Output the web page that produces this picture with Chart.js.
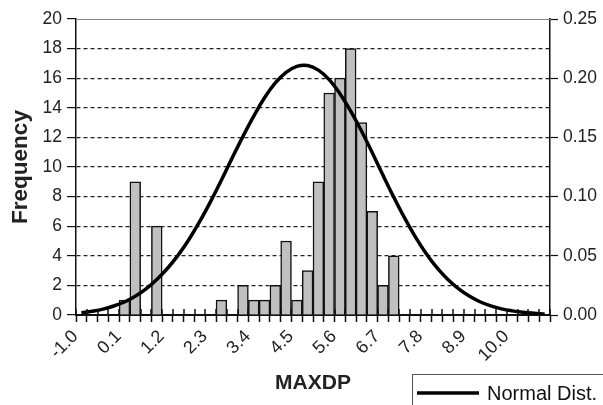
<!DOCTYPE html>
<html>
<head>
<meta charset="utf-8">
<script src="https://cdn.jsdelivr.net/npm/chart.js@4.4.1/dist/chart.umd.min.js"></script>
<style>
html,body{margin:0;padding:0;background:#fff;}
#wrap{width:603px;height:405px;position:relative;}
</style>
</head>
<body>
<div id="wrap"><canvas id="c" width="603" height="405"></canvas></div>
<script>
const categories = ['-1.0','','','','0.1','','','','1.2','','','','2.3','','','','3.4','','','','4.5','','','','5.6','','','','6.7','','','','7.8','','','','8.9','','','','10.0','','',''];
const frequency = [0,0,0,0,1,9,0,6,0,0,0,0,0,1,0,2,1,1,2,5,1,3,9,15,16,18,13,7,2,4,0,0,0,0,0,0,0,0,0,0,0,0,0,0];
const normalDist = [0.0018,0.0032,0.0050,0.0076,0.0110,0.0158,0.0220,0.0300,0.0395,0.0508,0.0640,0.0792,0.0960,0.1140,0.1327,0.1509,0.1680,0.1835,0.1960,0.2050,0.2100,0.2107,0.2068,0.1988,0.1869,0.1722,0.1554,0.1371,0.1180,0.0995,0.0820,0.0660,0.0520,0.0400,0.0302,0.0222,0.0160,0.0112,0.0077,0.0052,0.0035,0.0023,0.0015,0.0009];
const leftTicks = {min:0, max:20, step:2};
const rightTicks = {min:0, max:0.25, step:0.05};
const xTitle = 'MAXDP';
const yTitle = 'Frequency';
const seriesNames = ['Frequency','Normal Dist.'];

const FONT = "'Liberation Sans', Arial, sans-serif";

const extras = {
  id:'extras',
  afterDatasetsDraw(chart){
    const {ctx, chartArea:a, scales:{x}} = chart;
    ctx.save();
    ctx.strokeStyle = '#888'; ctx.lineWidth = 1;
    ctx.beginPath(); ctx.moveTo(a.left, a.top+0.5); ctx.lineTo(a.right, a.top+0.5); ctx.stroke();
    ctx.strokeStyle = '#111'; ctx.lineWidth = 1.5;
    for (let i = 0; i <= categories.length; i++) {
      const px = Math.round(x.getPixelForValue(i - 0.5));
      ctx.beginPath(); ctx.moveTo(px, a.bottom); ctx.lineTo(px, a.bottom - 6); ctx.stroke();
    }
    ctx.restore();
  },
  afterDraw(chart){
    const ctx = chart.ctx;
    const ds = chart.data.datasets.find(d => d.type === 'line');
    ctx.save();
    const bx = 412, by = 374;
    ctx.strokeStyle = '#555'; ctx.lineWidth = 1;
    ctx.strokeRect(bx + 0.5, by + 0.5, chart.width, chart.height);
    ctx.strokeStyle = ds.borderColor; ctx.lineWidth = ds.borderWidth;
    ctx.beginPath(); ctx.moveTo(417, 393); ctx.lineTo(479, 393); ctx.stroke();
    ctx.fillStyle = '#111';
    ctx.font = "20px " + FONT;
    ctx.textBaseline = 'alphabetic';
    ctx.fillText(ds.label, 487, 400);
    ctx.restore();
  }
};

new Chart(document.getElementById('c'), {
  data: {
    labels: categories,
    datasets: [
      {
        type:'line', label: seriesNames[1], data: normalDist, yAxisID:'y1',
        borderColor:'#000', borderWidth:3.5, pointRadius:0, tension:0.4, fill:false, order:0
      },
      {
        type:'bar', label: seriesNames[0], data: frequency, yAxisID:'y',
        backgroundColor:'#c0c0c0', borderColor:'#111', borderWidth:1.5,
        barPercentage:1, categoryPercentage:1, order:1
      }
    ]
  },
  options: {
    responsive:false, animation:false, devicePixelRatio:1,
    layout:{padding:{top:19, left:0, right:0, bottom:0}},
    plugins:{legend:{display:false}, tooltip:{enabled:false}},
    scales:{
      x:{
        type:'category', offset:true,
        grid:{display:true, offset:true, drawOnChartArea:false, drawTicks:true, tickLength:7, tickColor:'#111', tickWidth:1.5},
        border:{display:true, color:'#111', width:2},
        ticks:{autoSkip:false, minRotation:45, maxRotation:45, padding:4, labelOffset:-6,
          color:'#222', font:{family:FONT, size:18}},
        title:{display:true, text:xTitle, color:'#222', font:{family:FONT, size:21, weight:'bold'}, padding:{top:2, bottom:9}},
        afterFit(s){ s.height = 90; }
      },
      y:{
        position:'left', min:leftTicks.min, max:leftTicks.max,
        grid:{drawOnChartArea:true, color:(c)=> (c.tick && (c.tick.value===leftTicks.min || c.tick.value===leftTicks.max)) ? 'rgba(0,0,0,0)' : '#222',
          lineWidth:1.2, tickLength:9, tickColor:'#111', tickWidth:1.2, tickBorderDash:[]},
        border:{display:true, color:'#111', width:1.5, dash:[4,3]},
        ticks:{stepSize:leftTicks.step, padding:5, color:'#222', font:{family:FONT, size:17.5}},
        title:{display:true, text:yTitle, color:'#222', font:{family:FONT, size:22.5, weight:'bold'}, padding:{top:7, bottom:0}},
        afterFit(s){ s.width = 76; }
      },
      y1:{
        position:'right', min:rightTicks.min, max:rightTicks.max,
        grid:{drawOnChartArea:false, tickLength:8, tickColor:'#111', tickWidth:1.2},
        border:{display:true, color:'#111', width:1.5},
        ticks:{stepSize:rightTicks.step, padding:5, color:'#222', font:{family:FONT, size:17.5},
          callback:(v)=> Number(v).toFixed(2)},
        afterFit(s){ s.width = 53; }
      }
    }
  },
  plugins:[extras]
});
</script>
</body>
</html>
